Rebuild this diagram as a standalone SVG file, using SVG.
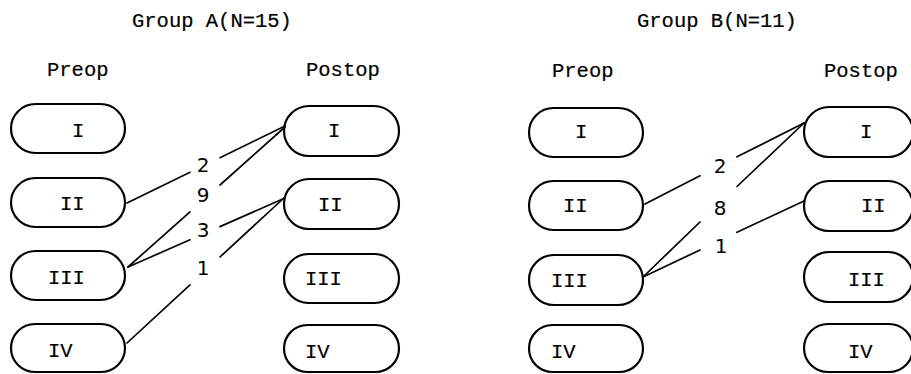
<svg xmlns="http://www.w3.org/2000/svg" width="911" height="374" viewBox="0 0 911 374">
<style>
.pill{fill:none;stroke:#000;stroke-width:2.2}
.t{font-family:"Liberation Mono","DejaVu Sans Mono",monospace;font-size:20.5px;fill:#000;stroke:#000;stroke-width:0.2}
.n{font-family:"DejaVu Sans","Liberation Sans",sans-serif;font-size:20px;fill:#000;text-anchor:middle}
.c{fill:none;stroke:#000;stroke-width:1.7;stroke-linecap:round}
</style>
<rect width="911" height="374" fill="#fff"/>
<g id="headers">
<text class="t" x="132" y="27">Group A(N=15)</text>
<text class="t" x="47" y="76">Preop</text>
<text class="t" x="306" y="76">Postop</text>
<text class="t" x="637" y="27">Group B(N=11)</text>
<text class="t" x="552" y="77">Preop</text>
<text class="t" x="824" y="77">Postop</text>
</g>
<g id="A-pre-I"><rect class="pill" x="11" y="104" width="114" height="49" rx="24.5"/><text class="t" x="72" y="137">I</text></g>
<g id="A-pre-II"><rect class="pill" x="11" y="178" width="114" height="49" rx="24.5"/><text class="t" x="60" y="210">II</text></g>
<g id="A-pre-III"><rect class="pill" x="11" y="251" width="114" height="49" rx="24.5"/><text class="t" x="48" y="284">III</text></g>
<g id="A-pre-IV"><rect class="pill" x="11" y="324" width="114" height="48" rx="24"/><text class="t" x="48" y="357">IV</text></g>
<g id="A-post-I"><rect class="pill" x="284" y="106" width="115" height="50" rx="25"/><text class="t" x="328" y="137">I</text></g>
<g id="A-post-II"><rect class="pill" x="284" y="179" width="115" height="50" rx="25"/><text class="t" x="318" y="211">II</text></g>
<g id="A-post-III"><rect class="pill" x="284" y="254" width="115" height="49" rx="24.5"/><text class="t" x="305" y="285">III</text></g>
<g id="A-post-IV"><rect class="pill" x="284" y="325" width="115" height="47" rx="23.5"/><text class="t" x="305" y="358">IV</text></g>
<g id="B-pre-I"><rect class="pill" x="529" y="108" width="114" height="49" rx="24.5"/><text class="t" x="575" y="138">I</text></g>
<g id="B-pre-II"><rect class="pill" x="529" y="181" width="114" height="49" rx="24.5"/><text class="t" x="563" y="212">II</text></g>
<g id="B-pre-III"><rect class="pill" x="529" y="255" width="114" height="50" rx="25"/><text class="t" x="551" y="287">III</text></g>
<g id="B-pre-IV"><rect class="pill" x="529" y="325" width="114" height="47" rx="23.5"/><text class="t" x="551" y="358">IV</text></g>
<g id="B-post-I"><rect class="pill" x="804" y="107" width="109" height="50" rx="25"/><text class="t" x="860" y="138">I</text></g>
<g id="B-post-II"><rect class="pill" x="804" y="181" width="109" height="50" rx="25"/><text class="t" x="861" y="212">II</text></g>
<g id="B-post-III"><rect class="pill" x="804" y="252" width="109" height="50" rx="25"/><text class="t" x="848" y="286">III</text></g>
<g id="B-post-IV"><rect class="pill" x="804" y="324" width="109" height="48" rx="24"/><text class="t" x="848" y="358">IV</text></g>
<g id="connectors">
<path class="c" d="M127 203L190 172.3M220 157.7L285 126"/>
<path class="c" d="M128 267L190 211.8M220 185L285 127"/>
<path class="c" d="M128 267L190 239.8M220 226.6L285 198"/>
<path class="c" d="M127 343L190 284.8M220 257L285 197"/>
<path class="c" d="M645 204L700 175.8M737 156.8L804 123"/>
<path class="c" d="M643 277L700 222M737 186.5L804 123"/>
<path class="c" d="M643 277L700 250M737 232.3L804 201"/>
<text class="n" x="203" y="172">2</text>
<text class="n" x="203" y="202">9</text>
<text class="n" x="203" y="237">3</text>
<text class="n" x="203" y="275">1</text>
<text class="n" x="720" y="173">2</text>
<text class="n" x="720" y="215">8</text>
<text class="n" x="721" y="253">1</text>
</g>
</svg>
